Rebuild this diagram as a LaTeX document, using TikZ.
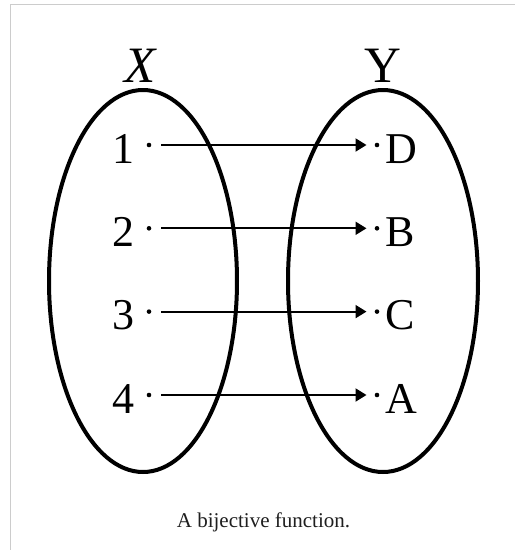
\documentclass[tikz,border=0pt]{standalone}
\usepackage{fontspec}
\setmainfont{Liberation Serif}
\usetikzlibrary{arrows.meta}
\begin{document}
\begin{tikzpicture}[x=1pt,y=-1pt,
  setell/.style={draw=black,line width=4pt},
  elt/.style={circle,fill=black,inner sep=0pt,minimum size=4.6pt},
  lbl/.style={font=\fontsize{44}{50}\selectfont,inner sep=0pt},
  setname/.style={font=\fontsize{51}{56}\selectfont,inner sep=0pt,anchor=base},
  maparrow/.style={line width=2pt,-{Triangle[length=11pt,width=13pt]},shorten <=9.5pt,shorten >=8pt},
  frameline/.style={draw=black!20,line width=1.2pt}]
\useasboundingbox (0,0) rectangle (515,550);
\fill[white] (0,0) rectangle (515,550);
\draw[frameline] (10.5,550) -- (10.5,4.5) -- (515,4.5);
% sets
\draw[setell] (143,281) ellipse [x radius=94, y radius=191];
\draw[setell] (383,281) ellipse [x radius=95, y radius=191];
\node[setname] (X) at (140,82) {\itshape X};
\node[setname] (Y) at (383,82) {Y};
% elements
\foreach \i/\l/\r/\yy in {1/1/D/145,2/2/B/228.3,3/3/C/311.6,4/4/A/395}{
  \node[elt] (l\i) at (149,\yy) {};
  \node[elt] (r\i) at (377,\yy) {};
  \node[lbl,anchor=base east] (n\i) at (134.5,\yy+18) {\l};
  \node[lbl,anchor=base west] (m\i) at (385.5,\yy+18) {\r};
  \draw[maparrow] (l\i) -- (r\i);
}
\node[font=\fontsize{21}{24}\selectfont,text=black!88,anchor=base,inner sep=0pt] (cap) at (263.5,527) {A bijective function.};
\end{tikzpicture}
\end{document}
